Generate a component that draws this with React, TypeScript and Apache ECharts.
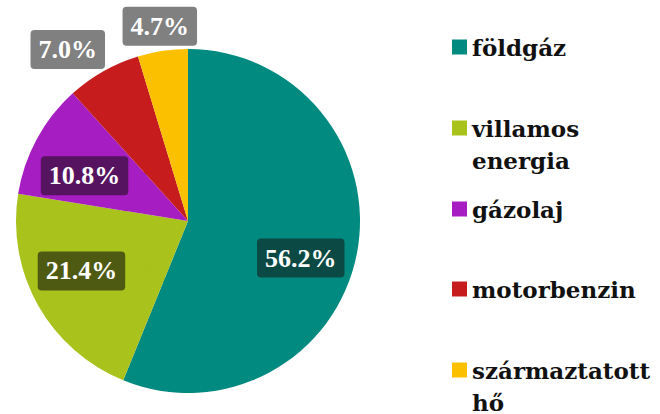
import { useEffect, useRef } from 'react';
import * as echarts from 'echarts';

// ---- data ----
const categories = ['földgáz', 'villamos energia', 'gázolaj', 'motorbenzin', 'származtatott hő'];
const legendLabels = ['földgáz', 'villamos\nenergia', 'gázolaj', 'motorbenzin', 'származtatott\nhő'];
const shares = [56.2, 21.4, 10.8, 7.0, 4.7];

// ---- styles ----
const sliceColors = ['#008a80', '#a9c21c', '#a61dc2', '#c61c1e', '#fbc100'];
const labelColors = ['#0b4a44', '#4e5a12', '#551360', '#808080', '#808080'];
const outsideLabel = [false, false, false, true, true];
const labelNudge = [[-5, 14], [-2, -9], [2, 12], [19, 0], [43, 0]];
const legendCenters = [47, 128, 209, 289, 370];

export default function App() {
  const ref = useRef<HTMLDivElement>(null);
  useEffect(() => {
    if (!ref.current) return;
    const chart = echarts.init(ref.current, undefined, { renderer: 'svg' });
    const center = [188, 221];
    const baseData = categories.map((name, i) => ({
      name,
      value: shares[i],
      itemStyle: { color: sliceColors[i] },
    }));
    const labeledData = categories.map((name, i) => ({
      name,
      value: shares[i],
      itemStyle: { color: sliceColors[i] },
      label: outsideLabel[i]
        ? { position: 'outside', backgroundColor: labelColors[i] }
        : { position: 'inside', backgroundColor: labelColors[i] },
    }));
    chart.setOption({
      animation: false,
      legend: categories.map((name, i) => {
        const multi = legendLabels[i].includes('\n');
        return {
          data: [{ name, icon: 'rect' }],
          left: 452,
          top: legendCenters[i] - (multi ? 48 : 16),
          padding: 0,
          itemWidth: 15,
          itemHeight: 15,
          selectedMode: false,
          // a leading empty line keeps the first text line level with the swatch
          formatter: () => (multi ? '\n' + legendLabels[i] : legendLabels[i]),
          textStyle: {
            fontFamily: 'DejaVu Serif',
            fontWeight: 'bold',
            fontSize: 23,
            color: '#111111',
            lineHeight: 32,
          },
        };
      }),
      series: [
        {
          type: 'pie',
          radius: [0, 66],
          center,
          startAngle: 90,
          clockwise: true,
          silent: true,
          z: 1,
          label: { show: false },
          labelLine: { show: false },
          emphasis: { disabled: true },
          data: baseData,
        },
        {
          type: 'pie',
          radius: [62, 172],
          center,
          startAngle: 90,
          clockwise: true,
          silent: true,
          z: 2,
          avoidLabelOverlap: false,
          emphasis: { disabled: true },
          label: {
            show: true,
            formatter: (p: any) => Number(p.value).toFixed(1) + '%',
            color: '#ffffff',
            fontFamily: 'Liberation Serif',
            fontWeight: 'bold',
            fontSize: 26,
            lineHeight: 30,
            padding: [5, 8, 4, 8],
            borderRadius: 4,
          },
          labelLine: { show: false, length: 25, length2: 0 },
          labelLayout: (p: any) => ({ dx: labelNudge[p.dataIndex][0], dy: labelNudge[p.dataIndex][1] }),
          data: labeledData,
        },
      ],
    });
    return () => chart.dispose();
  }, []);
  return (
    <div
      ref={ref}
      style={{ position: 'absolute', left: 0, top: 0, width: 660, height: 414, background: '#ffffff' }}
    />
  );
}
